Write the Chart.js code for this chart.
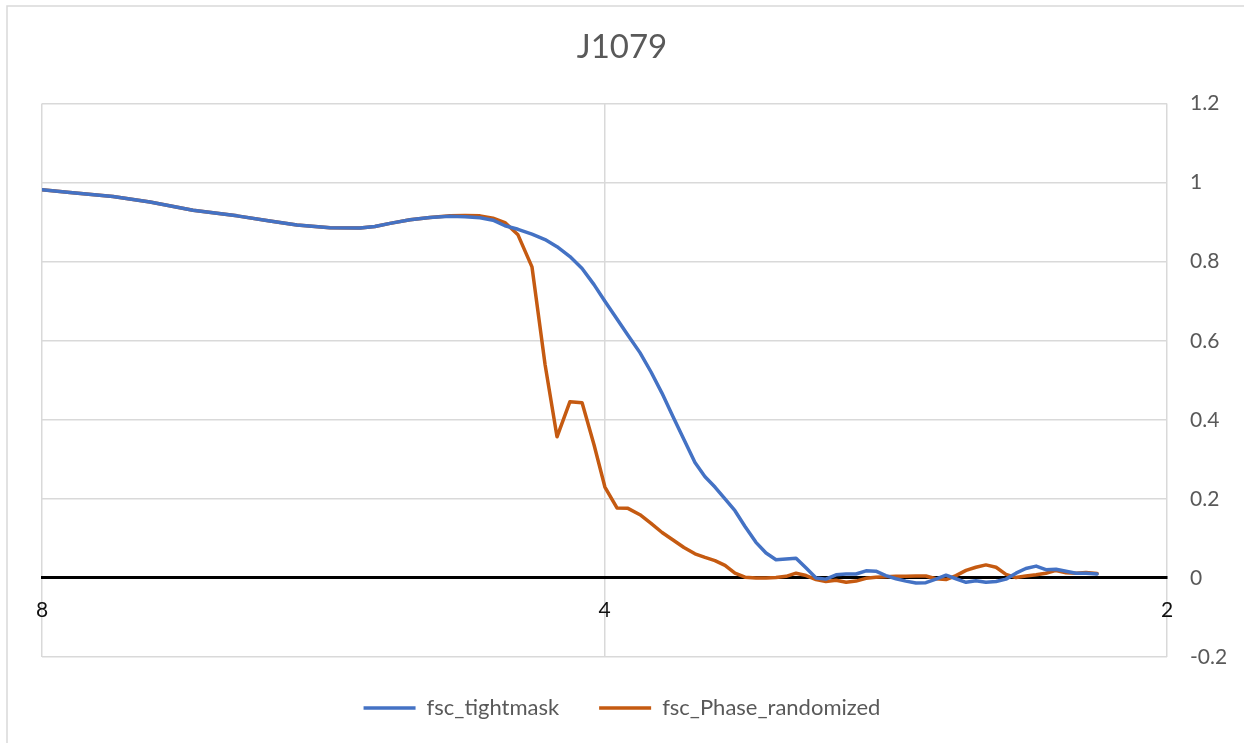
<!DOCTYPE html>
<html>
<head>
<meta charset="utf-8">
<script src="https://cdn.jsdelivr.net/npm/chart.js@4.4.1/dist/chart.umd.min.js"></script>
<style>
  html, body { margin: 0; padding: 0; background: #ffffff; }
  #wrap { position: relative; width: 1244px; height: 743px; }
</style>
</head>
<body>
<div id="wrap"><canvas id="c" width="1244" height="743"></canvas></div>
<script>
// Resolution (Å) of each sample
const resolution = [
  8.000, 7.729, 7.330, 7.003, 6.642, 6.291, 6.041, 5.843, 5.610, 5.406,
  5.308, 5.210, 5.083, 4.960, 4.839, 4.750, 4.663, 4.589, 4.522, 4.450,
  4.374, 4.304, 4.241, 4.174, 4.112, 4.052, 3.998, 3.939, 3.886, 3.829,
  3.777, 3.726, 3.676, 3.627, 3.578, 3.534, 3.491, 3.448, 3.406, 3.364,
  3.319, 3.278, 3.238, 3.198, 3.159, 3.120, 3.082, 3.045, 3.007, 2.970,
  2.934, 2.898, 2.863, 2.828, 2.793, 2.759, 2.725, 2.692, 2.659, 2.626,
  2.594, 2.562, 2.531, 2.500, 2.469, 2.439, 2.409, 2.380, 2.350, 2.322,
  2.293, 2.265, 2.237, 2.210, 2.180
];

const fscTightmask = [
  0.982, 0.975, 0.965, 0.951, 0.930, 0.916, 0.903, 0.893, 0.886, 0.885,
  0.889, 0.897, 0.906, 0.912, 0.915, 0.914, 0.911, 0.905, 0.891, 0.882,
  0.870, 0.856, 0.838, 0.813, 0.783, 0.742, 0.700, 0.655, 0.614, 0.570,
  0.521, 0.467, 0.408, 0.350, 0.292, 0.256, 0.230, 0.200, 0.170, 0.130,
  0.090, 0.063, 0.046, 0.048, 0.050, 0.025, 0.000, -0.003, 0.008, 0.010,
  0.010, 0.018, 0.017, 0.006, -0.002, -0.008, -0.013, -0.012, -0.003, 0.007,
  -0.002, -0.011, -0.007, -0.011, -0.009, -0.003, 0.012, 0.024, 0.030, 0.021,
  0.022, 0.017, 0.012, 0.012, 0.010
];

const fscPhaseRandomized = [
  0.982, 0.975, 0.965, 0.951, 0.930, 0.916, 0.903, 0.893, 0.886, 0.885,
  0.889, 0.897, 0.906, 0.912, 0.916, 0.917, 0.916, 0.910, 0.899, 0.868,
  0.787, 0.540, 0.357, 0.446, 0.443, 0.337, 0.230, 0.177, 0.176, 0.160,
  0.138, 0.115, 0.096, 0.077, 0.061, 0.052, 0.044, 0.032, 0.012, 0.002,
  0.000, 0.000, 0.001, 0.004, 0.012, 0.006, -0.004, -0.009, -0.006, -0.011,
  -0.008, -0.001, 0.002, 0.003, 0.004, 0.004, 0.005, 0.005, -0.002, -0.004,
  0.006, 0.019, 0.027, 0.033, 0.027, 0.009, 0.001, 0.005, 0.008, 0.012,
  0.019, 0.013, 0.012, 0.014, 0.011
];

const xTicks = [8, 4, 2];
const seriesNames = ['fsc_tightmask', 'fsc_Phase_randomized'];
const chartTitle = 'J1079';

const FONT = 'Lato, "Open Sans", sans-serif';

const outerBorder = {
  id: 'outerBorder',
  beforeDraw(chart) {
    const ctx = chart.ctx;
    ctx.save();
    ctx.strokeStyle = '#d9d9d9';
    ctx.lineWidth = 1.5;
    ctx.strokeRect(7, 6, 1260, 760);
    ctx.restore();
  }
};

// Keep the bottom legend box at a fixed height so the plot area ends where the reference does
const legendBox = {
  id: 'legendBox',
  beforeUpdate(chart) {
    const lg = chart.legend;
    if (lg && !lg._fixedFit) {
      const orig = lg.fit.bind(lg);
      lg.fit = function () { orig(); this.height = 86; };
      lg._fixedFit = true;
    }
  }
};

const toPoints = vals => resolution.map((r, i) => ({ x: r, y: vals[i] }));

new Chart(document.getElementById('c'), {
  type: 'line',
  data: {
    datasets: [
      {
        label: seriesNames[0],
        data: toPoints(fscTightmask),
        borderColor: '#4472C4',
        backgroundColor: '#4472C4',
        borderWidth: 3.5,
        pointRadius: 0,
        tension: 0,
        borderJoinStyle: 'round',
        borderCapStyle: 'round',
        yAxisID: 'y'
      },
      {
        label: seriesNames[1],
        data: toPoints(fscPhaseRandomized),
        borderColor: '#C55A11',
        backgroundColor: '#C55A11',
        borderWidth: 3.5,
        pointRadius: 0,
        tension: 0,
        borderJoinStyle: 'round',
        borderCapStyle: 'round',
        yAxisID: 'y'
      }
    ]
  },
  options: {
    responsive: false,
    animation: false,
    layout: { padding: { left: 0, right: 0, top: 10, bottom: 0 } },
    plugins: {
      title: {
        display: true,
        text: chartTitle,
        color: '#595959',
        font: { family: FONT, size: 33, weight: 'normal' },
        padding: { top: 18, bottom: 36 }
      },
      legend: {
        position: 'bottom',
        labels: {
          color: '#595959',
          font: { family: FONT, size: 22 },
          usePointStyle: true,
          pointStyle: 'line',
          pointStyleWidth: 52,
          padding: 40
        }
      },
      tooltip: { enabled: false }
    },
    scales: {
      x: {
        type: 'logarithmic',
        reverse: true,
        min: 2,
        max: 8,
        position: { y: 0 },
        afterBuildTicks: s => { s.ticks = xTicks.map(v => ({ value: v })); },
        ticks: {
          color: '#111111',
          font: { family: FONT, size: 21 },
          padding: 20,
          autoSkip: false,
          maxRotation: 0,
          callback: v => String(v)
        },
        grid: { color: '#d9d9d9', lineWidth: 1.5, drawTicks: false },
        border: { display: true, color: '#000000', width: 3 }
      },
      y: {
        position: 'right',
        min: -0.2,
        max: 1.2,
        afterFit: s => { s.width = 77; },
        ticks: {
          stepSize: 0.2,
          color: '#595959',
          font: { family: FONT, size: 21 },
          padding: 23,
          callback: v => String(parseFloat(Number(v).toFixed(1)))
        },
        grid: { color: '#d9d9d9', lineWidth: 1.5, drawTicks: false },
        border: { display: false }
      },
      yLeftSpacer: {
        position: 'left',
        min: -0.2,
        max: 1.2,
        afterFit: s => { s.width = 42; },
        ticks: { display: false },
        grid: { display: false, drawTicks: false },
        border: { display: false }
      }
    }
  },
  plugins: [outerBorder, legendBox]
});
</script>
</body>
</html>
